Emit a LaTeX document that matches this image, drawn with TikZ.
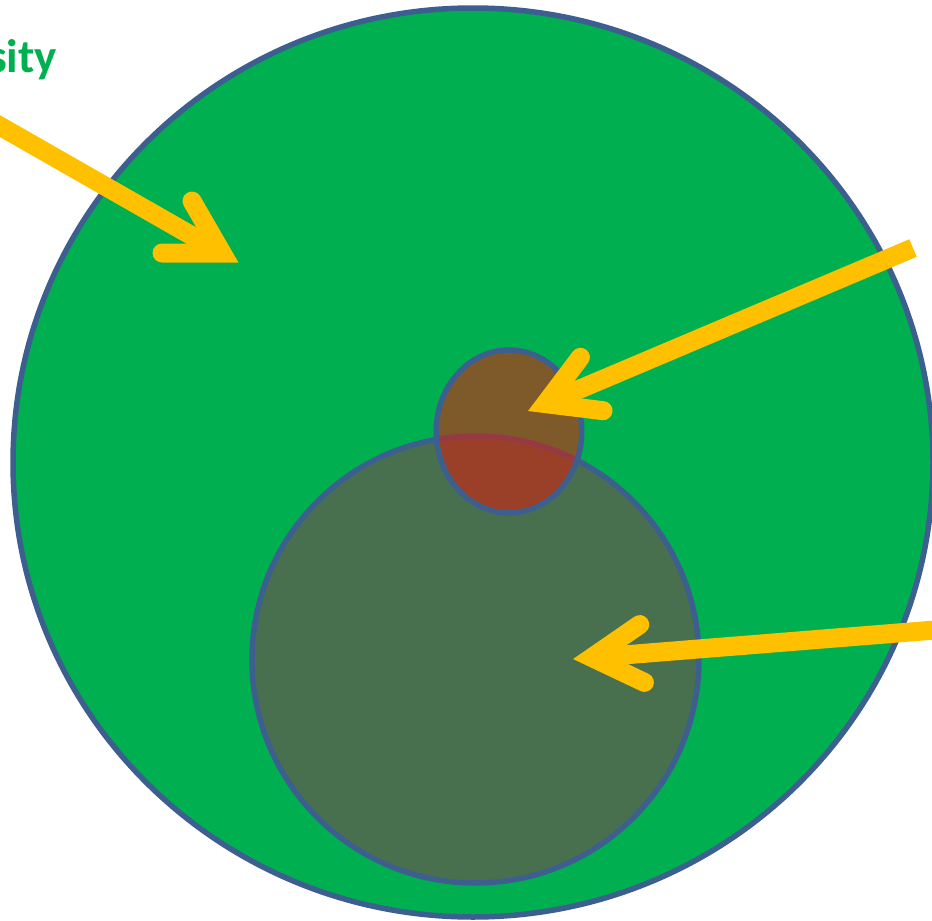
\documentclass[tikz,border=0pt]{standalone}
\usepackage{fontspec}
\setmainfont{Carlito}
\usetikzlibrary{shapes.geometric}
\definecolor{ggreen}{HTML}{00B050}
\definecolor{oline}{HTML}{3C5F8F}
\definecolor{midfill}{HTML}{48704F}
\definecolor{ayellow}{HTML}{FFC000}
\definecolor{redfill}{HTML}{D22111}
\begin{document}
\begin{tikzpicture}[x=1pt,y=-1pt,
  region/.style={draw=oline, line width=5.5pt, ellipse, inner sep=0pt, outer sep=0pt},
  shaft/.style={draw=ayellow, line width=19pt, line cap=butt},
  head/.style={draw=ayellow, line width=19pt, line cap=round, line join=miter, miter limit=10}]
\useasboundingbox (0,0) rectangle (932,921);
\clip (0,0) rectangle (932,921);
% regions
\node[region, fill=ggreen, minimum width=920pt, minimum height=909pt] (big) at (473,462.5) {};
\node[region, fill=midfill, minimum width=447pt, minimum height=447pt] (mid) at (475.5,659.5) {};
\node[region, fill=redfill, fill opacity=0.6, minimum width=145.5pt, minimum height=163pt] (small) at (509,431.5) {};
% label
\node[anchor=base west, inner sep=0pt, text=ggreen, font=\bfseries\fontsize{47}{56}\selectfont] (lbl) at (-12,72) {sity};
% arrow 1
\coordinate (s1) at (-30,109);
\coordinate (t1) at (222,253);
\draw[shaft] (s1) -- (t1);
\draw[head] (t1) ++(180:60) -- (t1) -- ++(240:60);
% arrow 2
\coordinate (s2) at (913,248);
\coordinate (t2) at (545.5,403.6);
\draw[shaft] (s2) -- (t2);
\draw[head] (t2) ++(7:58) -- (t2) -- ++(307:58);
% arrow 3
\coordinate (s3) at (960,628);
\coordinate (t3) at (592,657.5);
\draw[shaft] (s3) -- (t3);
\draw[head] (t3) ++(25.4:58) -- (t3) -- ++(-34.6:58);
\end{tikzpicture}
\end{document}
